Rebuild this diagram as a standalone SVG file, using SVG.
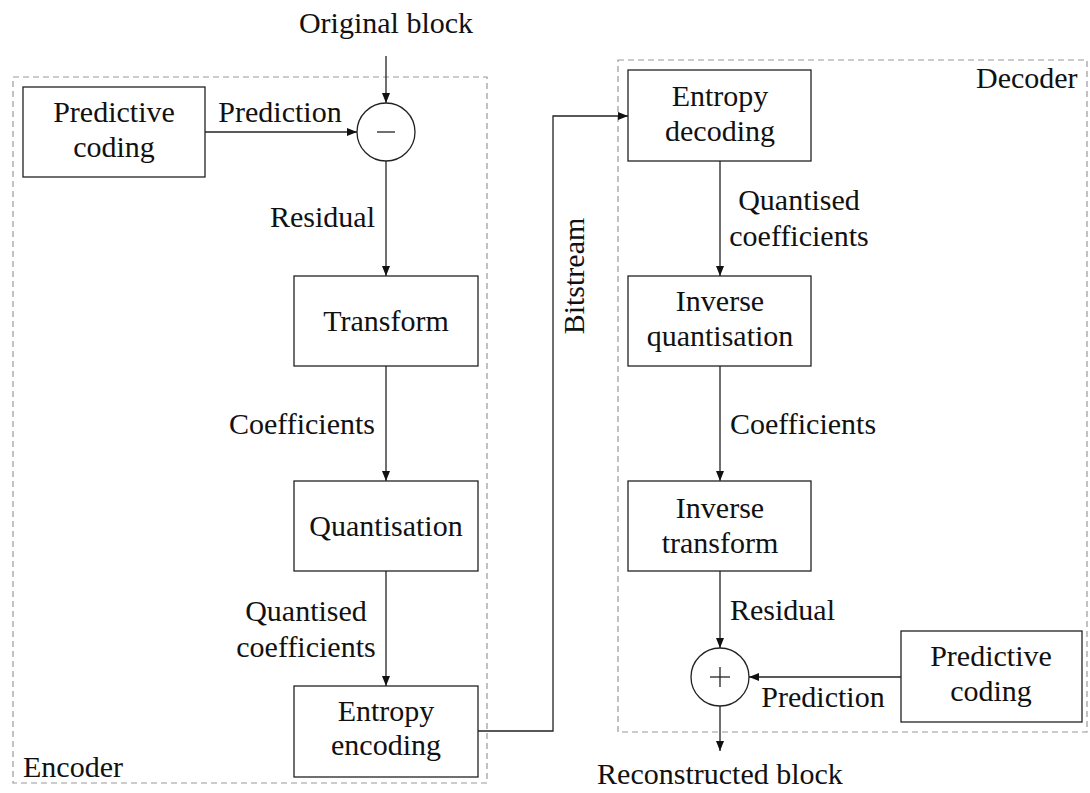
<svg xmlns="http://www.w3.org/2000/svg" width="1090" height="793" viewBox="0 0 1090 793">
  <style>
    text { font-family: "Liberation Serif", "Times New Roman", serif; font-size: 30px; fill: #111; }
    .mid { text-anchor: middle; }
    .end { text-anchor: end; }
    .box { fill: #fff; stroke: #222; stroke-width: 1.3; }
    .frame { fill: none; stroke: #999; stroke-width: 1.2; stroke-dasharray: 6 4; }
    .wire { fill: none; stroke: #222; stroke-width: 1.3; }
    .arrow { marker-end: url(#head); }
  </style>
  <defs>
    <marker id="head" viewBox="0 0 10 8" refX="10" refY="4" markerWidth="10" markerHeight="8" markerUnits="userSpaceOnUse" orient="auto">
      <path d="M0,0 L10,4 L0,8 Z" fill="#111"/>
    </marker>
  </defs>

  <rect width="1090" height="793" fill="#fff"/>

  <!-- system frames -->
  <g id="encoder-frame">
    <rect class="frame" x="13" y="77" width="474" height="706"/>
    <text x="23" y="777">Encoder</text>
  </g>
  <g id="decoder-frame">
    <rect class="frame" x="618" y="60" width="469" height="672"/>
    <text x="976" y="88">Decoder</text>
  </g>

  <!-- connectors -->
  <g id="connectors">
    <line class="wire arrow" x1="386" y1="56" x2="386" y2="103"/>
    <line class="wire arrow" x1="205" y1="132" x2="357" y2="132"/>
    <line class="wire arrow" x1="386" y1="161" x2="386" y2="276"/>
    <line class="wire arrow" x1="386" y1="366" x2="386" y2="481"/>
    <line class="wire arrow" x1="386" y1="571" x2="386" y2="686"/>
    <polyline class="wire arrow" points="478,731 553,731 553,116 628,116"/>
    <line class="wire arrow" x1="720" y1="161" x2="720" y2="276"/>
    <line class="wire arrow" x1="720" y1="366" x2="720" y2="481"/>
    <line class="wire arrow" x1="720" y1="571" x2="720" y2="648"/>
    <line class="wire arrow" x1="901" y1="677" x2="749" y2="677"/>
    <line class="wire arrow" x1="720" y1="706" x2="720" y2="751"/>

    <text class="mid" x="386" y="33">Original block</text>
    <text class="mid" x="280" y="122">Prediction</text>
    <text class="end" x="375" y="227">Residual</text>
    <text class="end" x="375" y="434">Coefficients</text>
    <text class="mid" x="306" y="621">Quantised</text>
    <text class="mid" x="306" y="657">coefficients</text>
    <text class="mid" transform="translate(584,276) rotate(-90)">Bitstream</text>
    <text class="mid" x="799" y="210">Quantised</text>
    <text class="mid" x="799" y="246">coefficients</text>
    <text x="730" y="434">Coefficients</text>
    <text x="730" y="620">Residual</text>
    <text class="mid" x="823" y="707">Prediction</text>
    <text class="mid" x="720" y="784">Reconstructed block</text>
  </g>

  <!-- encoder nodes -->
  <g id="enc-predictive">
    <rect class="box" x="23" y="87" width="182" height="90"/>
    <text class="mid" x="114" y="122">Predictive</text>
    <text class="mid" x="114" y="157">coding</text>
  </g>
  <g id="enc-subtract">
    <circle class="box" cx="386" cy="132" r="29"/>
    <line class="wire" x1="377" y1="132" x2="395" y2="132"/>
  </g>
  <g id="enc-transform">
    <rect class="box" x="294" y="276" width="184" height="90"/>
    <text class="mid" x="386" y="331">Transform</text>
  </g>
  <g id="enc-quantisation">
    <rect class="box" x="294" y="481" width="184" height="90"/>
    <text class="mid" x="386" y="536">Quantisation</text>
  </g>
  <g id="enc-entropy">
    <rect class="box" x="294" y="686" width="184" height="91"/>
    <text class="mid" x="386" y="721">Entropy</text>
    <text class="mid" x="386" y="755">encoding</text>
  </g>

  <!-- decoder nodes -->
  <g id="dec-entropy">
    <rect class="box" x="628" y="70" width="183" height="91"/>
    <text class="mid" x="720" y="106">Entropy</text>
    <text class="mid" x="720" y="141">decoding</text>
  </g>
  <g id="dec-inv-quantisation">
    <rect class="box" x="628" y="276" width="183" height="90"/>
    <text class="mid" x="720" y="311">Inverse</text>
    <text class="mid" x="720" y="346">quantisation</text>
  </g>
  <g id="dec-inv-transform">
    <rect class="box" x="628" y="481" width="183" height="90"/>
    <text class="mid" x="720" y="518">Inverse</text>
    <text class="mid" x="720" y="553">transform</text>
  </g>
  <g id="dec-add">
    <circle class="box" cx="720" cy="677" r="29"/>
    <line class="wire" x1="710" y1="677" x2="730" y2="677"/>
    <line class="wire" x1="720" y1="667" x2="720" y2="687"/>
  </g>
  <g id="dec-predictive">
    <rect class="box" x="901" y="631" width="181" height="91"/>
    <text class="mid" x="991" y="666">Predictive</text>
    <text class="mid" x="991" y="701">coding</text>
  </g>
</svg>
